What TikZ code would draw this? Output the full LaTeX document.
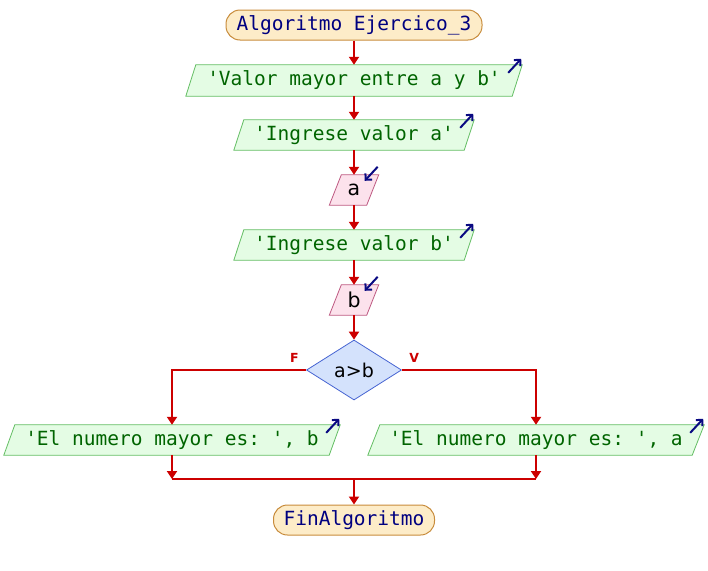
\documentclass[tikz,border=0pt]{standalone}
\usepackage{fontspec}
\setmonofont{DejaVu Sans Mono}
\setsansfont{DejaVu Sans}
\usetikzlibrary{arrows.meta,calc,shapes.geometric,backgrounds}

\definecolor{flow}{RGB}{204,0,0}
\definecolor{termfill}{RGB}{253,236,200}
\definecolor{termline}{RGB}{200,140,60}
\definecolor{outfill}{RGB}{228,252,228}
\definecolor{outline}{RGB}{100,190,100}
\definecolor{infill}{RGB}{252,226,236}
\definecolor{inline}{RGB}{190,90,130}
\definecolor{decfill}{RGB}{212,226,252}
\definecolor{decline}{RGB}{70,100,210}
\definecolor{navytext}{RGB}{0,0,128}
\definecolor{greentext}{RGB}{0,100,0}
\definecolor{iconcol}{RGB}{10,10,130}

% parallelogram behind a node: name, slant, style
\newcommand{\drawpara}[3]{%
  \begin{scope}[on background layer]
  \draw[#3] ($(#1.north west)+(#2/2,0)$) -- ($(#1.north east)+(#2/2,0)$)
     -- ($(#1.south east)-(#2/2,0)$) -- ($(#1.south west)-(#2/2,0)$) -- cycle;
  \end{scope}}
% "write" icon at the top right corner of an output box
\newcommand{\outicon}[2]{%
  \draw[icon] ($(#1.north east)+(#2/2,0)+(-14,8)$) -- ($(#1.north east)+(#2/2,0)+(-1,-6)$);}
% "read" icon at the top right corner of an input box
\newcommand{\inicon}[2]{%
  \draw[icon] ($(#1.north east)+(#2/2,0)+(-1,-8)$) -- ($(#1.north east)+(#2/2,0)+(-14,6)$);}

\tikzset{
  term/.style={draw=termline, fill=termfill, line width=1pt, rounded corners=14pt,
    inner sep=0pt, font=\fontsize{19.5}{20}\ttfamily, text=navytext},
  outbox/.style={inner sep=0pt, font=\fontsize{19.5}{20}\ttfamily, text=greentext},
  inbox/.style={inner sep=0pt, font=\fontsize{20.5}{21}\sffamily, text=black},
  outshape/.style={draw=outline, fill=outfill, line width=0.8pt},
  inshape/.style={draw=inline, fill=infill, line width=0.8pt},
  decision/.style={diamond, draw=decline, fill=decfill, line width=0.8pt, inner sep=0pt,
    minimum width=95pt, minimum height=60pt, aspect=1.58, font=\fontsize{19}{20}\sffamily},
  flowline/.style={draw=flow, line width=2pt},
  flowarrow/.style={flowline, -{Triangle[width=10pt,length=8pt]}},
  icon/.style={draw=iconcol, line width=2pt, -{Straight Barb[length=4.5pt,width=9pt]}},
  branch/.style={text=flow, font=\fontsize{12.5}{12.5}\sffamily\bfseries},
}

\begin{document}
\begin{tikzpicture}[x=1pt,y=-1pt]
\useasboundingbox (0,0) rectangle (708,570);

\node[term, minimum width=256pt, minimum height=30pt] (start) at (354,25) {Algoritmo Ejercico\_3};

\node[outbox, minimum width=326pt, minimum height=31pt] (out1) at (354,80.5) {'Valor mayor entre a y b'};
\drawpara{out1}{10}{outshape}
\outicon{out1}{10}

\node[outbox, minimum width=230pt, minimum height=30pt] (out2) at (354,135) {'Ingrese valor a'};
\drawpara{out2}{10}{outshape}
\outicon{out2}{10}

\node[inbox, minimum width=37pt, minimum height=30pt] (ina) at (354,190) {a};
\drawpara{ina}{12}{inshape}
\inicon{ina}{12}

\node[outbox, minimum width=230pt, minimum height=30pt] (out3) at (354,245) {'Ingrese valor b'};
\drawpara{out3}{10}{outshape}
\outicon{out3}{10}

\node[inbox, minimum width=37pt, minimum height=30pt] (inb) at (354,300) {b};
\drawpara{inb}{12}{inshape}
\inicon{inb}{12}

\node[decision] (dec) at (354,370) {a>b};

\node[outbox, minimum width=325pt, minimum height=30pt] (outF) at (172,440) {'El numero mayor es: ', b};
\drawpara{outF}{11}{outshape}
\outicon{outF}{11}

\node[outbox, minimum width=324pt, minimum height=30pt] (outV) at (536,440) {'El numero mayor es: ', a};
\drawpara{outV}{12}{outshape}
\outicon{outV}{12}

\node[term, minimum width=161pt, minimum height=30pt] (end) at (354,520) {FinAlgoritmo};

\coordinate (mergeL) at (172,479);
\coordinate (mergeR) at (536,479);
\coordinate (mergeC) at (354,479);

% main sequence
\draw[flowarrow] (start.south) -- (out1.north);
\draw[flowarrow] (out1.south) -- (out2.north);
\draw[flowarrow] (out2.south) -- (ina.north);
\draw[flowarrow] (ina.south) -- (out3.north);
\draw[flowarrow] (out3.south) -- (inb.north);
\draw[flowarrow] (inb.south) -- (dec.north);

% branches
\draw[flowarrow] (dec.west) -| (outF.north);
\draw[flowarrow] (dec.east) -| (outV.north);
\node[branch, anchor=south east] (lblF) at ($(dec.west)+(-4,-4)$) {F};
\node[branch, anchor=south west] (lblV) at ($(dec.east)+(4,-4)$) {V};

% merge
\draw[flowarrow] (outF.south) -- (mergeL);
\draw[flowarrow] (outV.south) -- (mergeR);
\draw[flowline] (mergeL) -- (mergeR);
\draw[flowarrow] (mergeC) -- (end.north);
\end{tikzpicture}
\end{document}
